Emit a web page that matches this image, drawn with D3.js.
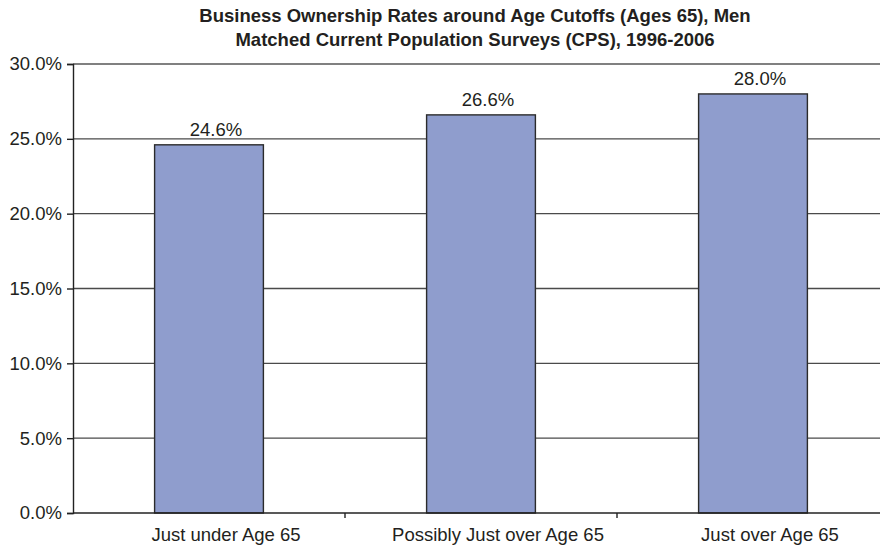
<!DOCTYPE html>
<html>
<head>
<meta charset="utf-8">
<script src="https://cdn.jsdelivr.net/npm/d3@7"></script>
<style>
  html, body { margin: 0; padding: 0; background: #fff; }
  svg { display: block; }
  text { font-family: Arial, "Liberation Sans", Helvetica, sans-serif; fill: #231f20; }
</style>
</head>
<body>
<script>
const titleLines = [
  "Business Ownership Rates around Age Cutoffs (Ages 65), Men",
  "Matched Current Population Surveys (CPS), 1996-2006"
];
const categories = ["Just under Age 65", "Possibly Just over Age 65", "Just over Age 65"];
const values = [0.246, 0.266, 0.280];
const yTicks = [0, 0.05, 0.10, 0.15, 0.20, 0.25, 0.30];

const W = 880, H = 547;
const svg = d3.select("body").append("svg").attr("width", W).attr("height", H);

const plotLeft = 73, plotRight = 889, plotTop = 64, plotBottom = 513;

const x = d3.scaleBand().domain(categories).range([plotLeft, plotRight])
  .paddingInner(0.6).paddingOuter(0.3);
const y = d3.scaleLinear().domain([0, 0.30]).range([plotBottom, plotTop]);

// title
svg.append("g").selectAll("text").data(titleLines).join("text")
  .attr("x", 475).attr("y", (d, i) => 22 + i * 24)
  .attr("text-anchor", "middle")
  .style("font-weight", "bold").style("font-size", "18.5px")
  .text(d => d);

// gridlines
svg.append("g").selectAll("line").data(yTicks.filter(t => t > 0)).join("line")
  .attr("x1", plotLeft).attr("x2", plotRight)
  .attr("y1", d => y(d)).attr("y2", d => y(d))
  .attr("stroke", (d, i, a) => i === a.length - 1 ? "#808080" : "#4a4a4a")
  .attr("stroke-width", (d, i, a) => i === a.length - 1 ? 2 : 1.4);

// bars
svg.append("g").selectAll("rect").data(categories).join("rect")
  .attr("x", d => x(d)).attr("width", x.bandwidth())
  .attr("y", (d, i) => y(values[i]))
  .attr("height", (d, i) => y(0) - y(values[i]))
  .attr("fill", "#8f9dcd").attr("stroke", "#2b2b2b").attr("stroke-width", 1.4);

// value labels
svg.append("g").selectAll("text").data(categories).join("text")
  .attr("x", d => x(d) + x.bandwidth() / 2 + 7)
  .attr("y", (d, i) => y(values[i]) - 9)
  .attr("text-anchor", "middle").style("font-size", "18.5px")
  .text((d, i) => d3.format(".1%")(values[i]));

// y axis
const yAxis = d3.axisLeft(y).tickValues(yTicks).tickFormat(d3.format(".1%"))
  .tickSize(6).tickPadding(5);
const gy = svg.append("g").attr("transform", `translate(${plotLeft},0)`).call(yAxis);
gy.select(".domain").attr("stroke", "#222").attr("stroke-width", 1.4);
gy.selectAll(".tick line").attr("stroke", "#222").attr("stroke-width", 1.4);
gy.selectAll(".tick text").style("font-size", "18.5px").attr("fill", "#231f20")
  .style("font-family", "Arial, 'Liberation Sans', sans-serif");

// x axis baseline
svg.append("line").attr("x1", plotLeft).attr("x2", plotRight).attr("y1", plotBottom).attr("y2", plotBottom)
  .attr("stroke", "#222").attr("stroke-width", 1.4);
// boundary ticks
const step = x.step();
const boundaries = categories.map((d, i) => x(d) - step * x.paddingInner() / 2).slice(1);
svg.append("g").selectAll("line").data(boundaries).join("line")
  .attr("x1", d => d).attr("x2", d => d).attr("y1", plotBottom).attr("y2", plotBottom + 5)
  .attr("stroke", "#222").attr("stroke-width", 1.4);

// category labels
svg.append("g").selectAll("text").data(categories).join("text")
  .attr("x", d => x(d) + x.bandwidth() / 2 + 17)
  .attr("y", 541)
  .attr("text-anchor", "middle").style("font-size", "18.5px")
  .text(d => d);
</script>
</body>
</html>
